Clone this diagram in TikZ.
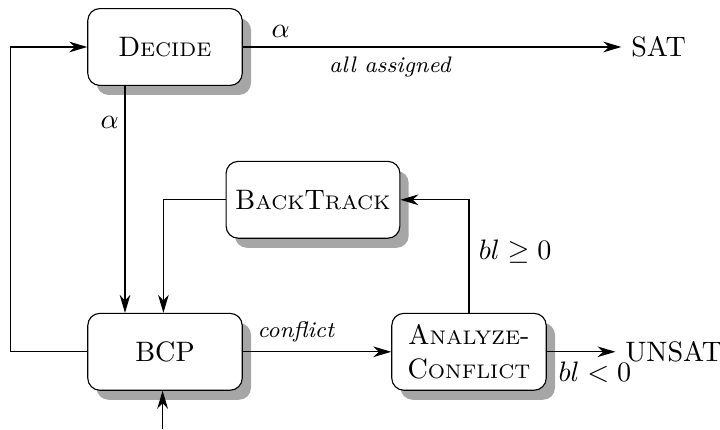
\documentclass[tikz,border=0pt]{standalone}
\usetikzlibrary{arrows.meta, positioning, shadows}

\newcommand{\blocksc}[2]{#1{\scriptsize #2}}

\begin{document}
\begin{tikzpicture}[>={Stealth[length=6.4pt,width=3.8pt,inset=2pt]},on grid,
    every node/.style={inner sep=0.333em}]
  \tikzstyle{blok}=[draw,rounded corners=0.15cm,fill=white,align=center,
    minimum width=1.93cm,minimum height=0.96cm,
    drop shadow={shadow xshift=0.11cm,shadow yshift=-0.12cm,fill=black!35,opacity=1}]
  \useasboundingbox (-2.0625,0.5875) rectangle (6.9375,-4.7875);
  % Blocks
  \node[blok] (decide) {\blocksc{D}{ECIDE}};
  \node[blok] (bcp) [below=3.81cm of decide] {BCP};
  \node[blok] (analyze) [right=3.8cm of bcp] {\blocksc{A}{NALYZE}-\\\blocksc{C}{ONFLICT}};
  \node[blok] (back) [above right=1.9cm and 1.85cm of bcp] {\blocksc{B}{ACK}\blocksc{T}{RACK}};
  \node (sat) [right=6.17cm of decide] {SAT};
  \node (unsat) [right=2.56cm of analyze] {UNSAT};
  \coordinate[below=0.97cm of bcp] (in);

  \draw[->] (decide) -- node[above,pos=0.1] {$\alpha$}
                        node[below,pos=0.39] {\footnotesize\textit{all assigned}} (sat);
  \draw[->] ([xshift=-0.5cm]decide.south) -- node[left,pos=0.16,inner sep=2pt] {$\alpha$}
            ([xshift=-0.5cm]decide.south |- bcp.north);
  \draw[->] (back.west) -| ([xshift=-0.02cm]bcp.north);
  \draw[->] (bcp.west) -- ++(-0.96,0) |- (decide.west);
  \draw[->] ([xshift=-0.03cm]in) -- ([xshift=-0.03cm]bcp.south);
  \draw[->] (bcp) -- node[above,pos=0.36] {\footnotesize\textit{conflict}} (analyze);
  \draw[->] (analyze.north) |- node[right,pos=0.27] {$bl \geq 0$} (back.east);
  \draw[->] (analyze) -- node[below,pos=0.7] {$bl < 0$} (unsat);
\end{tikzpicture}
\end{document}
